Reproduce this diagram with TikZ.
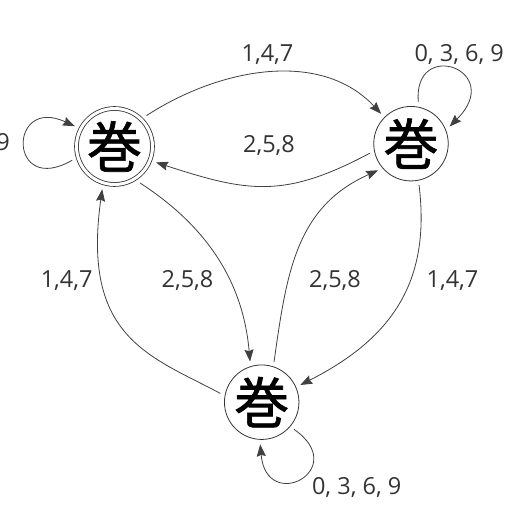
\documentclass[tikz,border=0pt]{standalone}
\usepackage{fontspec}
\setmainfont{Open Sans}
\newfontfamily\cjk[FakeBold=1.2]{Noto Sans CJK JP}
\usetikzlibrary{arrows.meta}
\begin{document}
\begin{tikzpicture}[x=1pt,y=1pt,
  edgeline/.style={draw=black!75, line width=0.8pt,
    -{Stealth[length=12pt,width=9pt,inset=1.5pt]}},
  state/.style={circle, draw=black!80, line width=0.8pt, minimum size=74pt,
    inner sep=0pt, outer sep=5pt, font=\cjk\fontsize{55}{55}\selectfont},
  accepting/.style={state, double, double distance=3pt, minimum size=76pt,
    outer sep=6.5pt},
  lbl/.style={inner sep=0pt, text=black!80, font=\fontsize{23.5}{23.5}\selectfont}]
  \useasboundingbox (0,0) rectangle (512,512);

  % states
  \node[accepting] (L) at (114.5,365.5) {巻};
  \node[state]     (R) at (411,368.3)   {巻};
  \node[state]     (B) at (261.7,109.8) {巻};

  % transitions between states
  \draw[edgeline] (L.44)    .. controls +(33:88)  and +(133:88) .. (R.135.6);
  \draw[edgeline] (R.193.6) .. controls +(208:97) and +(-18:97) .. (L.-21);
  \draw[edgeline] (L.-55)   .. controls +(-33:80) and +(95:80)  .. (B.106);
  \draw[edgeline] (B.168)   .. controls +(152:80) and +(-98:150) .. (L.254);
  \draw[edgeline] (B.73)    .. controls +(82:90)  and +(204:90) .. (R.219);
  \draw[edgeline] (R.-79)   .. controls +(-83:100) and +(27:100) .. (B.24);

  % self loops
  \draw[edgeline] (R.80)  .. controls +(95:65)  and +(45:80)  .. (R.24);
  \draw[edgeline] (L.198) .. controls +(210:74) and +(155:74) .. (L.153);
  \draw[edgeline] (B.-40) .. controls +(-35:70) and +(-85:70) .. (B.-92);

  % transition labels
  \node[lbl, anchor=base] (tLR) at (267.5,450.2) {1,4,7};
  \node[lbl, anchor=base] (tRL) at (269,359.5)   {2,5,8};
  \node[lbl, anchor=base] (tBL) at (66.7,224.5)  {1,4,7};
  \node[lbl, anchor=base] (tLB) at (187.5,224.5) {2,5,8};
  \node[lbl, anchor=base] (tBR) at (335,224.5)   {2,5,8};
  \node[lbl, anchor=base] (tRB) at (452.5,224.5) {1,4,7};
  \node[lbl, anchor=base] (tRR) at (459.2,450.2) {0, 3, 6, 9};
  \node[lbl, anchor=base] (tBB) at (356.7,17)    {0, 3, 6, 9};
  \node[lbl, anchor=base east] (tLL) at (10,361) {0, 3, 6, 9};
\end{tikzpicture}
\end{document}
